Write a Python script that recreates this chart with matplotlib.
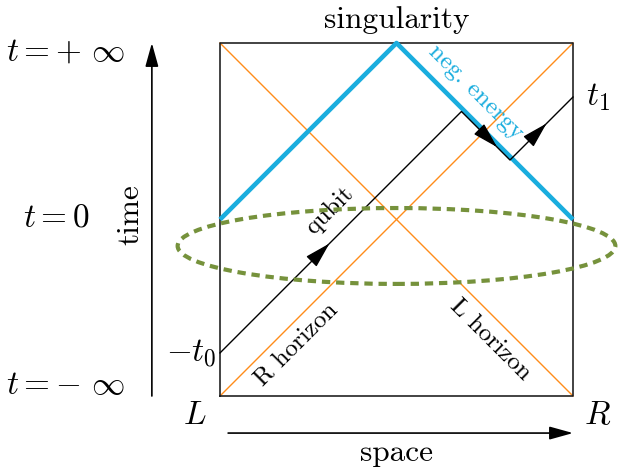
import matplotlib
matplotlib.use("Agg")
import matplotlib.pyplot as plt
from matplotlib.patches import Ellipse

plt.rcParams['mathtext.fontset'] = 'cm'
plt.rcParams['font.family'] = ['cmr10', 'DejaVu Serif']
plt.rcParams['axes.unicode_minus'] = False

# ---- data (diagram coordinates, square = unit box) ----
box_x = [0, 1, 1, 0, 0]
box_y = [0, 0, 1, 1, 0]
r_horizon_x = [0, 1]
r_horizon_y = [0, 1]
l_horizon_x = [0, 1]
l_horizon_y = [1, 0]
neg_energy_x = [0, 0.5, 1]
neg_energy_y = [0.5, 1, 0.5]
qubit_x = [0, 0.684, 0.8215, 1.0]
qubit_y = [0.122, 0.806, 0.6685, 0.847]
arrow_tips_x = [0.31, 0.785, 0.925]
arrow_dirs = [(1, 1), (1, -1), (1, 1)]
ellipse_center = (0.5, 0.425)
ellipse_width = 1.24
ellipse_height = 0.215
t0_value = 0.122
t1_value = 0.847

BLUE = '#1AADDE'
ORANGE = '#FF8C1A'
GREEN = '#76923C'

fig = plt.figure(figsize=(6.19, 4.69), dpi=100)
ax = fig.add_axes([0, 0, 1, 1])
ax.set_xlim(-220/353, 399/353)
ax.set_ylim(-73/353, 396/353)
ax.axis('off')

ax.plot(box_x, box_y, color='#222222', lw=1.2, zorder=2)
ax.plot(r_horizon_x, r_horizon_y, color=ORANGE, lw=1.0, zorder=1)
ax.plot(l_horizon_x, l_horizon_y, color=ORANGE, lw=1.0, zorder=1)
ax.plot(neg_energy_x, neg_energy_y, color=BLUE, lw=3.3, zorder=3, solid_capstyle='butt')
ax.plot(qubit_x, qubit_y, color='black', lw=1.0, zorder=4)

# arrowheads on qubit path
for tx, (dx, dy) in zip(arrow_tips_x, arrow_dirs):
    ty = None
    for i in range(len(qubit_x) - 1):
        if qubit_x[i] <= tx <= qubit_x[i+1]:
            f = (tx - qubit_x[i]) / (qubit_x[i+1] - qubit_x[i])
            ty = qubit_y[i] + f * (qubit_y[i+1] - qubit_y[i])
            break
    s = 0.03
    ax.annotate('', xy=(tx, ty), xytext=(tx - s*dx, ty - s*dy),
                arrowprops=dict(arrowstyle='-|>,head_length=1.0,head_width=0.28',
                                color='black', lw=1.0, shrinkA=0, shrinkB=0,
                                mutation_scale=16), zorder=5)

ell = Ellipse(ellipse_center, ellipse_width, ellipse_height, fill=False,
              edgecolor=GREEN, lw=3.0, linestyle=(0, (2.0, 1.4)), zorder=6)
ell.set_clip_on(False)
ax.add_patch(ell)

# axes arrows
ax.annotate('', xy=(-0.193, 1.0), xytext=(-0.193, 0.0),
            arrowprops=dict(arrowstyle='-|>,head_length=0.9,head_width=0.25',
                            color='black', lw=1.2, shrinkA=0, shrinkB=0,
                            mutation_scale=16))
ax.annotate('', xy=(1.0, -0.105), xytext=(0.023, -0.105),
            arrowprops=dict(arrowstyle='-|>,head_length=0.9,head_width=0.25',
                            color='black', lw=1.2, shrinkA=0, shrinkB=0,
                            mutation_scale=16))

fs = 24
fs2 = 18
ax.text(0.5, 1.065, 'singularity', ha='center', va='center', fontsize=fs-1.5)
ax.text(-0.439, 0.975, r'$t=+\ \infty$', ha='center', va='center', fontsize=fs)
ax.text(-0.462, 0.504, r'$t=0$', ha='center', va='center', fontsize=fs)
ax.text(-0.439, 0.031, r'$t=-\ \infty$', ha='center', va='center', fontsize=fs)
ax.text(-0.255, 0.513, 'time', ha='center', va='center', fontsize=fs-1.5, rotation=90)
ax.text(-0.01, t0_value, r'$-t_0$', ha='right', va='center', fontsize=fs)
ax.text(1.071, t1_value, r'$t_1$', ha='center', va='center', fontsize=fs)
ax.text(-0.071, -0.054, r'$L$', ha='center', va='center', fontsize=fs)
ax.text(1.071, -0.054, r'$R$', ha='center', va='center', fontsize=fs)
ax.text(0.5, -0.162, 'space', ha='center', va='center', fontsize=fs-1.5)
ax.text(0.311, 0.524, 'qubit', ha='center', va='center', fontsize=fs2,
        rotation=45, rotation_mode='anchor')
ax.text(0.2167, 0.147, 'R horizon', ha='center', va='center', fontsize=fs2,
        rotation=45, rotation_mode='anchor')
ax.text(0.765, 0.159, 'L horizon', ha='center', va='center', fontsize=fs2,
        rotation=-45, rotation_mode='anchor')
ax.text(0.725, 0.862, 'neg. energy', ha='center', va='center', fontsize=fs2,
        rotation=-45, rotation_mode='anchor', color=BLUE)

fig.savefig('out.png', dpi=100)
